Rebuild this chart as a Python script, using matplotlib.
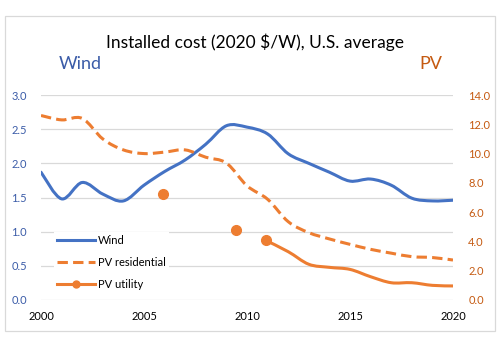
import matplotlib
matplotlib.use("Agg")
import matplotlib.pyplot as plt
from matplotlib.path import Path
from matplotlib.patches import PathPatch, Rectangle
from matplotlib.lines import Line2D

plt.rcParams["font.family"] = ["Lato", "DejaVu Sans"]

# Custo instalado (2020 $/W), média EUA
anos = list(range(2000, 2021))
eolica = [1.87, 1.48, 1.72, 1.55, 1.45, 1.68, 1.88, 2.05, 2.28, 2.55, 2.53,
          2.43, 2.14, 2.0, 1.87, 1.74, 1.77, 1.68, 1.49, 1.45, 1.46]
pv_residencial = [12.6, 12.3, 12.4, 11.0, 10.25, 10.0, 10.1, 10.25, 9.75, 9.35, 7.8,
                  6.88, 5.35, 4.6, 4.17, 3.8, 3.46, 3.2, 2.96, 2.9, 2.73]
# usina: pontos isolados + série contínua a partir de 2011
anos_pontos = [2005.9, 2009.45]
pv_usina_pontos = [7.22, 4.76]
anos_usina = [2010.9, 2012, 2013, 2014, 2015, 2016, 2017, 2018, 2019, 2020]
pv_usina = [4.08, 3.3, 2.44, 2.23, 2.09, 1.59, 1.18, 1.18, 1.0, 0.96]

azul = "#4472C4"
laranja = "#ED7D31"
cinza = "#D9D9D9"


def curva_suave(xs, ys):
    # segmentos de Bézier no estilo "linha suavizada" do Excel
    verts = [(xs[0], ys[0])]
    codes = [Path.MOVETO]
    n = len(xs)
    for i in range(n - 1):
        a = i - 1 if i > 0 else i
        d = i + 2 if i + 2 < n else i + 1
        c1 = (xs[i] + (xs[i + 1] - xs[a]) / 6, ys[i] + (ys[i + 1] - ys[a]) / 6)
        c2 = (xs[i + 1] - (xs[d] - xs[i]) / 6, ys[i + 1] - (ys[d] - ys[i]) / 6)
        verts += [c1, c2, (xs[i + 1], ys[i + 1])]
        codes += [Path.CURVE4] * 3
    return Path(verts, codes)


fig = plt.figure(figsize=(5.04, 3.39), dpi=100)
ax1 = fig.add_axes([41 / 504, 1 - 300 / 339, 412 / 504, 205 / 339])
ax2 = ax1.twinx()

lw = 2.2
ax1.add_patch(PathPatch(curva_suave(anos, eolica), fill=False, edgecolor=azul,
                        lw=lw, capstyle="round", joinstyle="round"))
ax2.add_patch(PathPatch(curva_suave(anos, pv_residencial), fill=False, edgecolor=laranja,
                        lw=lw, linestyle=(0, (3.4, 1.7)), capstyle="butt", joinstyle="round"))
ax2.add_patch(PathPatch(curva_suave(anos_usina, pv_usina), fill=False, edgecolor=laranja,
                        lw=lw, capstyle="round", joinstyle="round"))
ax2.plot(anos_pontos + anos_usina[:1], pv_usina_pontos + pv_usina[:1], "o",
         color=laranja, ms=7, ls="none")

ax1.set_xlim(2000, 2020)
ax1.set_ylim(0, 3.0)
ax2.set_ylim(0, 14.0)
ax1.set_xticks([2000, 2005, 2010, 2015, 2020])
ax1.set_yticks([0.0, 0.5, 1.0, 1.5, 2.0, 2.5, 3.0])
ax2.set_yticks([0, 2, 4, 6, 8, 10, 12, 14])
ax1.set_yticklabels([f"{v:.1f}" for v in ax1.get_yticks()])
ax2.set_yticklabels([f"{v:.1f}" for v in ax2.get_yticks()])

for ax in (ax1, ax2):
    for s in ax.spines.values():
        s.set_visible(False)
    ax.tick_params(length=0, labelsize=8)
ax1.tick_params(axis="y", colors="#3B5CA8", pad=10)
ax1.tick_params(axis="x", colors="black", pad=8)
ax2.tick_params(axis="y", colors="#C55A11", pad=11)
ax1.yaxis.grid(True, color=cinza, lw=0.9)
ax1.set_axisbelow(True)

fig.text(255.5 / 504, 1 - 42 / 339, "Installed cost (2020 $/W), U.S. average",
         ha="center", va="center", fontsize=12.5)
fig.text(80 / 504, 1 - 64 / 339, "Wind", ha="center", va="center",
         fontsize=13, color="#3B5CA8")
fig.text(431 / 504, 1 - 64 / 339, "PV", ha="center", va="center",
         fontsize=13, color="#C55A11")

handles = [
    Line2D([], [], color=azul, lw=lw),
    Line2D([], [], color=laranja, lw=lw, ls=(0, (3.4, 1.7))),
    Line2D([], [], color=laranja, lw=lw, marker="o", ms=5),
]
leg = ax2.legend(handles, ["Wind", "PV residential", "PV utility"],
                 loc="upper left", bbox_to_anchor=(48 / 504, 1 - 226 / 339),
                 bbox_transform=fig.transFigure, fontsize=8, frameon=True,
                 handlelength=3.4, handletextpad=0.3, labelspacing=1.0,
                 borderpad=0.3, fancybox=False)
leg.get_frame().set_edgecolor("none")
leg.get_frame().set_facecolor("white")
leg.get_frame().set_alpha(1)

fig.patches.append(Rectangle((5 / 504, 1 - 331 / 339), 490 / 504, 315 / 339,
                             transform=fig.transFigure, fill=False,
                             edgecolor=cinza, lw=0.9))

fig.savefig("out.png", dpi=100)
